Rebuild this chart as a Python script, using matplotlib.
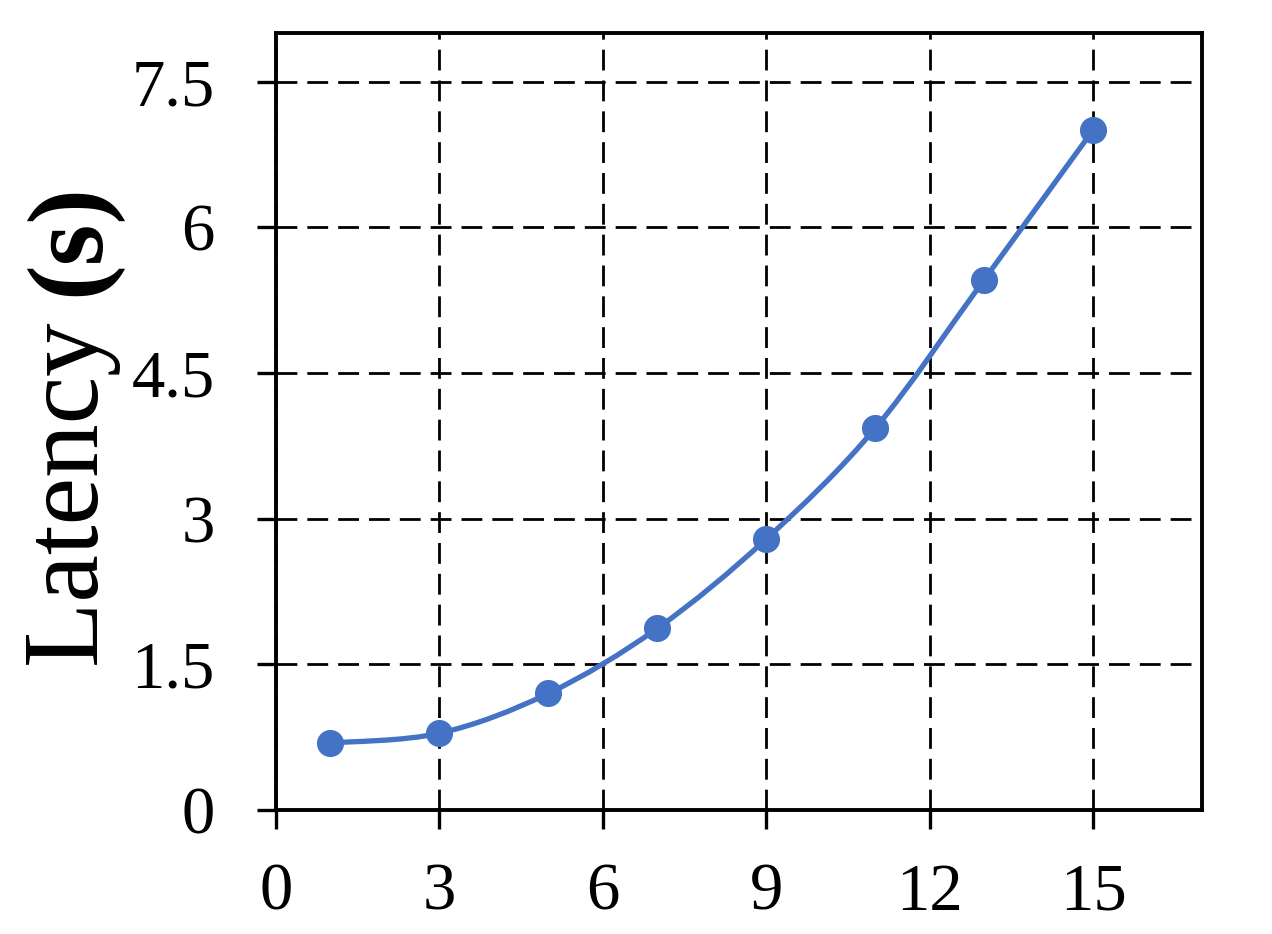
import numpy as np
import matplotlib
matplotlib.use('Agg')
import matplotlib.pyplot as plt
from matplotlib.path import Path
from matplotlib.patches import PathPatch

FONT = 'Liberation Serif'

# Datos
x_vals = [1, 3, 5, 7, 9, 11, 13, 15]
latency = [0.69, 0.79, 1.20, 1.87, 2.79, 3.93, 5.46, 7.00]
x_ticks = [0, 3, 6, 9, 12, 15]
x_tick_labels = ['0', '3', '6', '9', '12', '15']
y_ticks = [0, 1.5, 3, 4.5, 6, 7.5]
y_tick_labels = ['0', '1.5', '3', '4.5', '6', '7.5']

color = '#4472C4'

fig = plt.figure(figsize=(12.72, 9.34), dpi=100)
ax = fig.add_axes([0.217, 0.1328, 0.728, 0.8319])

# Curva suavizada (estilo Excel) con beziers cubicos
pts = np.column_stack([x_vals, latency]).astype(float)
ext = np.vstack([pts[0], pts, pts[-1]])
verts = [tuple(pts[0])]
codes = [Path.MOVETO]
for i in range(1, len(ext) - 2):
    p0, p1, p2, p3 = ext[i - 1], ext[i], ext[i + 1], ext[i + 2]
    c1 = p1 + (p2 - p0) / 6
    c2 = p2 - (p3 - p1) / 6
    verts += [tuple(c1), tuple(c2), tuple(p2)]
    codes += [Path.CURVE4] * 3
ax.add_patch(PathPatch(Path(verts, codes), fill=False, edgecolor=color,
                       linewidth=3.8, capstyle='round', zorder=3))
ax.plot(x_vals, latency, linestyle='none', marker='o', markersize=18.5,
        color=color, zorder=4)

ax.set_xlim(0, 17)
ax.set_ylim(0, 8)
ax.set_xticks(x_ticks)
ax.set_xticklabels(x_tick_labels, fontfamily=FONT, fontsize=48)
ax.set_yticks(y_ticks)
ax.set_yticklabels(y_tick_labels, fontfamily=FONT, fontsize=48)

ax.grid(True, color='black', linewidth=2.0, dashes=(7.5, 3.6))
ax.set_axisbelow(True)

for s in ax.spines.values():
    s.set_linewidth(2.8)
    s.set_zorder(5)

ax.tick_params(axis='both', direction='out', length=14, width=2.4, color='black')
ax.tick_params(axis='y', pad=30)
ax.tick_params(axis='x', pad=24)

# Etiqueta del eje y: "Latency" normal y "(s)" en negrita
t1 = fig.text(98 / 1272, (934 - 667) / 934, 'Latency ', fontsize=77,
              fontfamily=FONT, rotation=90, rotation_mode='anchor',
              ha='left', va='baseline')
fig.canvas.draw()
bb = t1.get_window_extent()
fig.text(98 / 1272, bb.y1 / 934, '(s)', fontsize=77, fontfamily=FONT,
         fontweight='bold', rotation=90, rotation_mode='anchor',
         ha='left', va='baseline')

fig.savefig('out.png', dpi=100)
